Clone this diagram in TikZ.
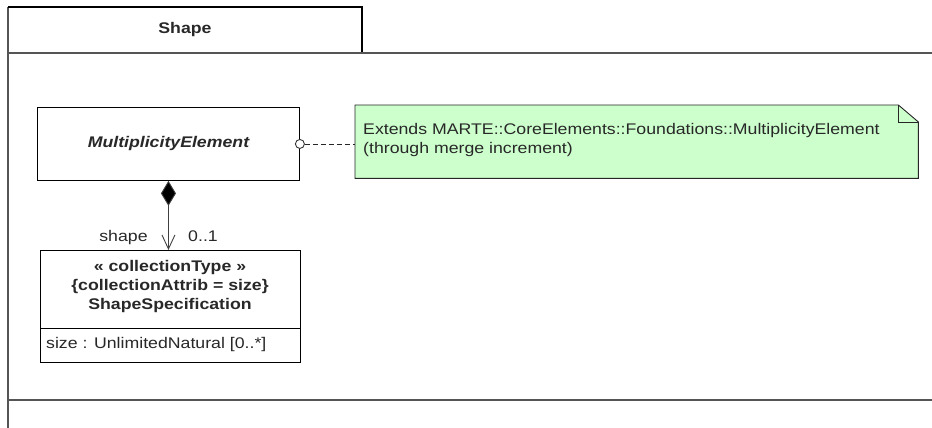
\documentclass[tikz,border=0pt]{standalone}
\usepackage{fontspec}
\setmainfont{Liberation Sans}[FakeStretch=1.15]
\usetikzlibrary{arrows.meta}
\definecolor{framec}{RGB}{85,85,85}
\definecolor{notefill}{RGB}{204,255,204}
\definecolor{txt}{RGB}{40,40,40}
\tikzset{
  frameline/.style={draw=framec, line width=1.6pt},
  classbox/.style={draw=black, line width=0.9pt, fill=white, inner sep=0pt},
  lbl/.style={text=txt, inner sep=0pt, font=\fontsize{15.4}{19}\selectfont},
  comp/.style={draw=black!75, line width=0.9pt,
    {Diamond[length=25pt,width=15pt,fill=black]}-{Straight Barb[length=14pt,width=13pt,line width=0.9pt]}},
}
\begin{document}
\begin{tikzpicture}[x=1pt,y=-1pt]
\useasboundingbox (0,0) rectangle (932,428);
% package frame
\draw[frameline] (8,428) -- (8,7);
\draw[draw=black, line width=1.2pt] (8,7) -- (362,7) -- (362,53);
\draw[frameline] (8,53) -- (932,53);
\draw[frameline] (8,400) -- (932,400);
\node[lbl, font=\fontsize{15.4}{19}\selectfont\bfseries] (title) at (185,30) {Shape};
% MultiplicityElement
\node[classbox, minimum width=262pt, minimum height=73pt, anchor=north west] (me) at (37,107) {};
\node[lbl, font=\fontsize{15.4}{19}\selectfont\bfseries\itshape] (metxt) at (me.center) {MultiplicityElement};
% note
\node[inner sep=0pt, minimum width=563pt, minimum height=73pt, anchor=north west] (note) at (355,105) {};
\draw[fill=notefill, draw=black!85, line width=0.9pt]
  (note.north west) -- ([xshift=-20pt]note.north east) -- ([yshift=-17pt]note.north east)
  -- (note.south east) -- (note.south west) -- cycle;
\draw[draw=black!85, line width=0.9pt]
  ([xshift=-20pt]note.north east) -- ([xshift=-20pt,yshift=-17pt]note.north east) -- ([yshift=-17pt]note.north east);
\node[lbl, align=left, anchor=west] (notetxt) at (363,140.5)
  {Extends MARTE::CoreElements::Foundations::MultiplicityElement\\(through merge increment)};
% note link
\node[circle, draw=black!80, fill=white, line width=0.9pt, inner sep=0pt, minimum size=9pt] (anc) at (me.east) {};
\draw[dashed, dash pattern=on 5pt off 3pt, draw=black!85, line width=0.9pt] (anc.east) -- (note.west |- me.east);
% ShapeSpecification
\node[classbox, minimum width=260pt, minimum height=112pt, anchor=north west] (ss) at (40,250) {};
\draw[draw=black, line width=0.9pt] (40,328) coordinate (sepl) -- (300,328) coordinate (sepr);
\node[lbl, align=center, font=\fontsize{15.4}{19}\selectfont\bfseries] (sstxt) at (170,287)
  {« collectionType »\\\{collectionAttrib = size\}\\ShapeSpecification};
\node[lbl, anchor=west] (attr) at (46,345) {size : UnlimitedNatural [0..*]};
% composition
\draw[comp] (me.south) -- (me.south |- ss.north);
\node[lbl, anchor=base] (role) at (123.5,241) {shape};
\node[lbl, anchor=base] (mult) at (203,241) {0..1};
\end{tikzpicture}
\end{document}
